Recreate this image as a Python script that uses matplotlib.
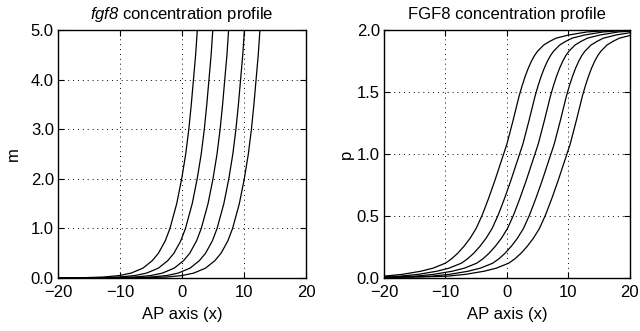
import numpy as np
import matplotlib
matplotlib.use('Agg')
import matplotlib.pyplot as plt

plt.rcParams['font.family'] = ['Liberation Sans', 'DejaVu Sans']
# only the gene name in the left title is mathtext, so make all of it italic
plt.rcParams['mathtext.fontset'] = 'custom'
plt.rcParams['mathtext.rm'] = 'Liberation Sans:italic'
plt.rcParams['mathtext.it'] = 'Liberation Sans:italic'
plt.rcParams['font.size'] = 12

# --- fgf8 (m) profiles: x position of each curve at the given m levels ---
m_levels = [0.00003, 0.0015, 0.005, 0.02, 0.05, 0.1, 0.2, 0.35, 0.5, 0.75,
            1.0, 1.5, 2.0, 2.5, 3.0, 3.5, 4.0, 4.5, 5.0]
m_x1 = [-30.4, -19.8, -16.5, -12.7, -10.1, -8.2, -6.3, -4.8, -3.8, -2.7,
        -1.94, -0.85, -0.05, 0.6, 1.1, 1.5, 1.85, 2.2, 2.47]
m_x2 = [-27.9, -17.3, -14.0, -10.2, -7.6, -5.7, -3.8, -2.3, -1.3, -0.2,
        0.56, 1.65, 2.45, 3.1, 3.6, 4.0, 4.35, 4.7, 4.97]
m_x3 = [-25.35, -14.75, -11.45, -7.65, -5.05, -3.15, -1.25, 0.25, 1.25, 2.35,
        3.11, 4.2, 5.0, 5.65, 6.15, 6.55, 6.9, 7.25, 7.52]
m_x4 = [-22.8, -12.2, -8.9, -5.1, -2.5, -0.6, 1.3, 2.8, 3.8, 4.9,
        5.66, 6.75, 7.55, 8.2, 8.7, 9.1, 9.45, 9.8, 10.07]
m_x5 = [-20.3, -9.7, -6.4, -2.6, 0.0, 1.9, 3.8, 5.3, 6.3, 7.4,
        8.16, 9.25, 10.05, 10.7, 11.2, 11.6, 11.95, 12.3, 12.57]

# --- FGF8 (p) profiles: x position of each curve at the given p levels ---
p_levels = [0.004, 0.008, 0.015, 0.03, 0.055, 0.08, 0.12, 0.155, 0.2, 0.255,
            0.32, 0.4, 0.51, 0.64, 0.78, 0.93, 1.08, 1.27, 1.47, 1.555,
            1.63, 1.695, 1.75, 1.795, 1.83, 1.88, 1.91, 1.935, 1.96, 1.985,
            1.995, 2.0]
p_x1 = [-31, -25, -20, -17, -14, -12, -10, -9, -8, -7,
        -6, -5, -4, -3, -2, -1, 0, 1, 2, 2.5,
        3, 3.5, 4, 4.5, 5, 6, 7, 8, 10, 13,
        16, 20]
p_x2 = [-28.4, -22.4, -17.4, -14.4, -11.4, -9.4, -7.4, -6.4, -5.4, -4.4,
        -3.4, -2.4, -1.4, -0.4, 0.6, 1.6, 2.6, 3.6, 4.6, 5.1,
        5.6, 6.1, 6.6, 7.1, 7.6, 8.6, 9.6, 10.6, 12.6, 15.6,
        18.6, 22.6]
p_x3 = [-25.9, -19.9, -14.9, -11.9, -8.9, -6.9, -4.9, -3.9, -2.9, -1.9,
        -0.9, 0.1, 1.1, 2.1, 3.1, 4.1, 5.1, 6.1, 7.1, 7.6,
        8.1, 8.6, 9.1, 9.6, 10.1, 11.1, 12.1, 13.1, 15.1, 18.1,
        21.1, 25.1]
p_x4 = [-23.3, -17.3, -12.3, -9.3, -6.3, -4.3, -2.3, -1.3, -0.3, 0.7,
        1.7, 2.7, 3.7, 4.7, 5.7, 6.7, 7.7, 8.7, 9.7, 10.2,
        10.7, 11.2, 11.7, 12.2, 12.7, 13.7, 14.7, 15.7, 17.7, 20.7,
        23.7, 27.7]
p_x5 = [-20.7, -14.7, -9.7, -6.7, -3.7, -1.7, 0.3, 1.3, 2.3, 3.3,
        4.3, 5.3, 6.3, 7.3, 8.3, 9.3, 10.3, 11.3, 12.3, 12.8,
        13.3, 13.8, 14.3, 14.8, 15.3, 16.3, 17.3, 18.3, 20.3, 23.3,
        26.3, 30.3]

x_ticks = [-20, -10, 0, 10, 20]
m_ticks = [0.0, 1.0, 2.0, 3.0, 4.0, 5.0]
p_ticks = [0.0, 0.5, 1.0, 1.5, 2.0]


def style_axes(ax, yticks):
    ax.set_xlim(-20, 20)
    ax.set_xticks(x_ticks)
    ax.set_yticks(yticks)
    ax.set_yticklabels(['%.1f' % v for v in yticks])
    ax.tick_params(direction='in', length=4, width=0.8, top=True, right=True,
                   labelsize=12)
    ax.tick_params(axis='y', pad=3)
    ax.tick_params(axis='x', pad=5)
    ax.grid(True, color='black', linestyle=(0, (1, 4)), linewidth=0.7)
    for s in ax.spines.values():
        s.set_linewidth(1.0)
    ax.set_xlabel('AP axis (x)', labelpad=5)


fig = plt.figure(figsize=(6.4, 3.31), dpi=100)

ax1 = fig.add_axes([0.0906, 0.160, 0.3875, 0.749])
for xs in [m_x1, m_x2, m_x3, m_x4, m_x5]:
    ax1.plot(xs, m_levels, color='black', linewidth=0.9)
ax1.set_ylim(0, 5)
style_axes(ax1, m_ticks)
ax1.set_ylabel('m', labelpad=7)
ax1.set_title(r'$fgf8$ concentration profile', fontsize=12, pad=8)

# right panel kept a few pixels narrower so the last tick label fits
ax2 = fig.add_axes([0.600, 0.160, 0.384, 0.749])
for xs in [p_x1, p_x2, p_x3, p_x4, p_x5]:
    ax2.plot(xs, p_levels, color='black', linewidth=0.9)
ax2.set_ylim(0, 2)
style_axes(ax2, p_ticks)
ax2.set_ylabel('p', labelpad=2)
ax2.set_title('FGF8 concentration profile', fontsize=12, pad=8)

fig.savefig('out.png', dpi=100)
